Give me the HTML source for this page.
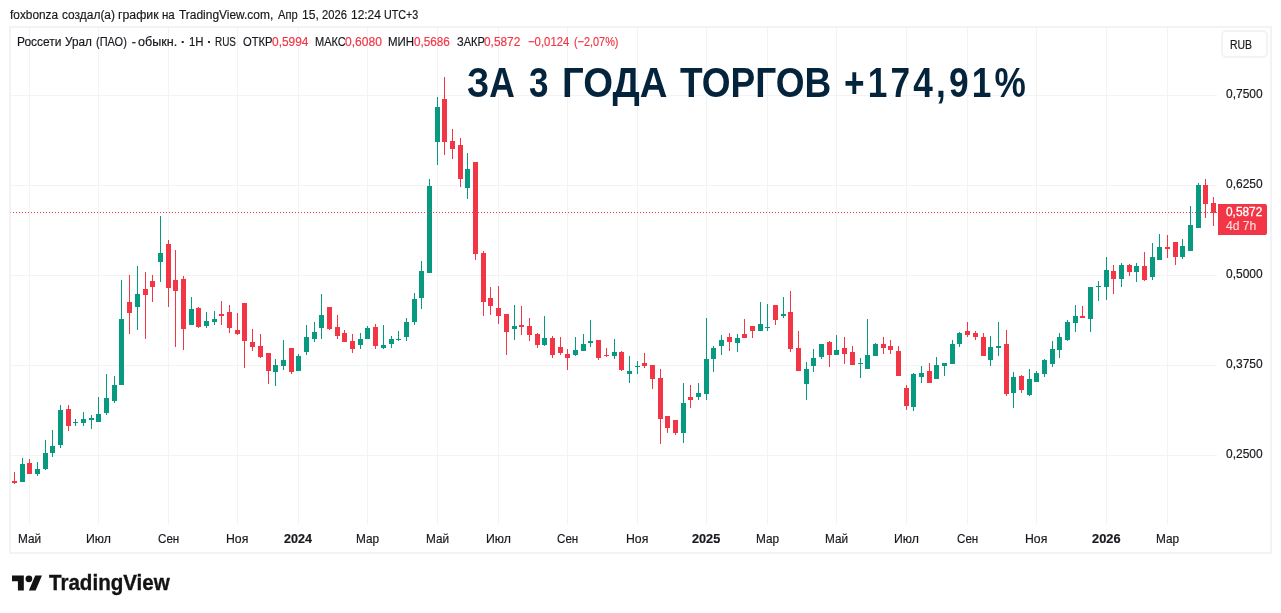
<!DOCTYPE html>
<html lang="ru"><head><meta charset="utf-8"><title>TradingView chart</title>
<style>
html,body{margin:0;padding:0;background:#fff;}
body{width:1281px;height:613px;position:relative;overflow:hidden;font-family:"Liberation Sans",sans-serif;color:#17181d;}
.abs{position:absolute;white-space:nowrap;}
.f{position:absolute;white-space:nowrap;transform-origin:0 0;display:block;-webkit-text-stroke:0.18px currentColor;}
.rub{left:1220.5px;top:30px;width:43px;height:23.5px;border:2px solid #f3f3f4;border-radius:5px;}
.pbox{left:1218px;top:204px;width:49px;height:31px;background:#f23645;border-radius:0 2px 2px 0;}
</style></head><body>
<svg width="1281" height="613" viewBox="0 0 1281 613" style="position:absolute;left:0;top:0" shape-rendering="crispEdges">
<rect x="29" y="28" width="1" height="496" fill="#f3f3f4"/>
<rect x="98" y="28" width="1" height="496" fill="#f3f3f4"/>
<rect x="168" y="28" width="1" height="496" fill="#f3f3f4"/>
<rect x="237" y="28" width="1" height="496" fill="#f3f3f4"/>
<rect x="298" y="28" width="1" height="496" fill="#f3f3f4"/>
<rect x="367" y="28" width="1" height="496" fill="#f3f3f4"/>
<rect x="437" y="28" width="1" height="496" fill="#f3f3f4"/>
<rect x="498" y="28" width="1" height="496" fill="#f3f3f4"/>
<rect x="567" y="28" width="1" height="496" fill="#f3f3f4"/>
<rect x="637" y="28" width="1" height="496" fill="#f3f3f4"/>
<rect x="706" y="28" width="1" height="496" fill="#f3f3f4"/>
<rect x="767" y="28" width="1" height="496" fill="#f3f3f4"/>
<rect x="836" y="28" width="1" height="496" fill="#f3f3f4"/>
<rect x="906" y="28" width="1" height="496" fill="#f3f3f4"/>
<rect x="967" y="28" width="1" height="496" fill="#f3f3f4"/>
<rect x="1036" y="28" width="1" height="496" fill="#f3f3f4"/>
<rect x="1106" y="28" width="1" height="496" fill="#f3f3f4"/>
<rect x="1167" y="28" width="1" height="496" fill="#f3f3f4"/>
<rect x="11" y="95" width="1206" height="1" fill="#f3f3f4"/>
<rect x="11" y="185" width="1206" height="1" fill="#f3f3f4"/>
<rect x="11" y="275" width="1206" height="1" fill="#f3f3f4"/>
<rect x="11" y="365" width="1206" height="1" fill="#f3f3f4"/>
<rect x="11" y="455" width="1206" height="1" fill="#f3f3f4"/>
<rect x="10" y="27" width="1261" height="526" fill="none" stroke="#f3f3f4" stroke-width="2"/>
<rect x="14" y="472" width="1" height="12" fill="#f23645"/>
<rect x="12" y="481" width="5" height="2" fill="#f23645"/>
<rect x="22" y="458" width="1" height="24" fill="#089981"/>
<rect x="20" y="464" width="5" height="18" fill="#089981"/>
<rect x="29" y="459" width="1" height="15" fill="#f23645"/>
<rect x="27" y="463" width="5" height="11" fill="#f23645"/>
<rect x="37" y="462" width="1" height="14" fill="#089981"/>
<rect x="35" y="469" width="5" height="5" fill="#089981"/>
<rect x="45" y="440" width="1" height="30" fill="#089981"/>
<rect x="43" y="453" width="5" height="16" fill="#089981"/>
<rect x="52" y="430" width="1" height="27" fill="#089981"/>
<rect x="50" y="446" width="5" height="7" fill="#089981"/>
<rect x="60" y="405" width="1" height="43" fill="#089981"/>
<rect x="58" y="410" width="5" height="35" fill="#089981"/>
<rect x="68" y="405" width="1" height="26" fill="#f23645"/>
<rect x="66" y="409" width="5" height="17" fill="#f23645"/>
<rect x="75" y="419" width="1" height="7" fill="#089981"/>
<rect x="73" y="422" width="5" height="1" fill="#089981"/>
<rect x="83" y="412" width="1" height="14" fill="#089981"/>
<rect x="81" y="419" width="5" height="4" fill="#089981"/>
<rect x="91" y="415" width="1" height="14" fill="#089981"/>
<rect x="89" y="418" width="5" height="2" fill="#089981"/>
<rect x="98" y="397" width="1" height="25" fill="#089981"/>
<rect x="96" y="414" width="5" height="8" fill="#089981"/>
<rect x="106" y="374" width="1" height="41" fill="#089981"/>
<rect x="104" y="398" width="5" height="15" fill="#089981"/>
<rect x="114" y="376" width="1" height="27" fill="#089981"/>
<rect x="112" y="385" width="5" height="16" fill="#089981"/>
<rect x="121" y="280" width="1" height="105" fill="#089981"/>
<rect x="119" y="319" width="5" height="66" fill="#089981"/>
<rect x="129" y="275" width="1" height="59" fill="#f23645"/>
<rect x="127" y="302" width="5" height="11" fill="#f23645"/>
<rect x="137" y="266" width="1" height="64" fill="#089981"/>
<rect x="135" y="294" width="5" height="13" fill="#089981"/>
<rect x="145" y="272" width="1" height="67" fill="#f23645"/>
<rect x="143" y="289" width="5" height="6" fill="#f23645"/>
<rect x="152" y="275" width="1" height="27" fill="#f23645"/>
<rect x="150" y="281" width="5" height="6" fill="#f23645"/>
<rect x="160" y="216" width="1" height="66" fill="#089981"/>
<rect x="158" y="253" width="5" height="9" fill="#089981"/>
<rect x="168" y="240" width="1" height="67" fill="#f23645"/>
<rect x="166" y="244" width="5" height="44" fill="#f23645"/>
<rect x="175" y="250" width="1" height="97" fill="#f23645"/>
<rect x="173" y="280" width="5" height="11" fill="#f23645"/>
<rect x="183" y="276" width="1" height="74" fill="#f23645"/>
<rect x="181" y="279" width="5" height="50" fill="#f23645"/>
<rect x="191" y="297" width="1" height="28" fill="#089981"/>
<rect x="189" y="309" width="5" height="16" fill="#089981"/>
<rect x="198" y="307" width="1" height="21" fill="#f23645"/>
<rect x="196" y="308" width="5" height="19" fill="#f23645"/>
<rect x="206" y="312" width="1" height="16" fill="#089981"/>
<rect x="204" y="321" width="5" height="5" fill="#089981"/>
<rect x="214" y="311" width="1" height="14" fill="#089981"/>
<rect x="212" y="319" width="5" height="3" fill="#089981"/>
<rect x="221" y="301" width="1" height="24" fill="#f23645"/>
<rect x="219" y="314" width="5" height="2" fill="#f23645"/>
<rect x="229" y="305" width="1" height="28" fill="#f23645"/>
<rect x="227" y="312" width="5" height="16" fill="#f23645"/>
<rect x="237" y="313" width="1" height="22" fill="#f23645"/>
<rect x="235" y="330" width="5" height="4" fill="#f23645"/>
<rect x="244" y="303" width="1" height="65" fill="#f23645"/>
<rect x="242" y="303" width="5" height="38" fill="#f23645"/>
<rect x="252" y="329" width="1" height="22" fill="#f23645"/>
<rect x="250" y="342" width="5" height="5" fill="#f23645"/>
<rect x="260" y="334" width="1" height="24" fill="#f23645"/>
<rect x="258" y="346" width="5" height="11" fill="#f23645"/>
<rect x="268" y="353" width="1" height="31" fill="#f23645"/>
<rect x="266" y="353" width="5" height="18" fill="#f23645"/>
<rect x="275" y="359" width="1" height="27" fill="#089981"/>
<rect x="273" y="365" width="5" height="7" fill="#089981"/>
<rect x="283" y="340" width="1" height="30" fill="#089981"/>
<rect x="281" y="360" width="5" height="6" fill="#089981"/>
<rect x="291" y="348" width="1" height="26" fill="#f23645"/>
<rect x="289" y="348" width="5" height="24" fill="#f23645"/>
<rect x="298" y="354" width="1" height="17" fill="#089981"/>
<rect x="296" y="356" width="5" height="15" fill="#089981"/>
<rect x="306" y="325" width="1" height="30" fill="#089981"/>
<rect x="304" y="337" width="5" height="15" fill="#089981"/>
<rect x="314" y="322" width="1" height="20" fill="#089981"/>
<rect x="312" y="332" width="5" height="7" fill="#089981"/>
<rect x="321" y="294" width="1" height="45" fill="#089981"/>
<rect x="319" y="315" width="5" height="13" fill="#089981"/>
<rect x="329" y="307" width="1" height="23" fill="#f23645"/>
<rect x="327" y="307" width="5" height="22" fill="#f23645"/>
<rect x="337" y="315" width="1" height="24" fill="#f23645"/>
<rect x="335" y="327" width="5" height="9" fill="#f23645"/>
<rect x="344" y="330" width="1" height="12" fill="#f23645"/>
<rect x="342" y="333" width="5" height="9" fill="#f23645"/>
<rect x="352" y="334" width="1" height="19" fill="#f23645"/>
<rect x="350" y="341" width="5" height="8" fill="#f23645"/>
<rect x="360" y="333" width="1" height="16" fill="#089981"/>
<rect x="358" y="339" width="5" height="6" fill="#089981"/>
<rect x="367" y="326" width="1" height="13" fill="#089981"/>
<rect x="365" y="328" width="5" height="11" fill="#089981"/>
<rect x="375" y="324" width="1" height="25" fill="#f23645"/>
<rect x="373" y="327" width="5" height="19" fill="#f23645"/>
<rect x="383" y="325" width="1" height="24" fill="#089981"/>
<rect x="381" y="345" width="5" height="3" fill="#089981"/>
<rect x="391" y="336" width="1" height="12" fill="#089981"/>
<rect x="389" y="339" width="5" height="5" fill="#089981"/>
<rect x="398" y="331" width="1" height="10" fill="#089981"/>
<rect x="396" y="339" width="5" height="1" fill="#089981"/>
<rect x="406" y="318" width="1" height="23" fill="#089981"/>
<rect x="404" y="322" width="5" height="15" fill="#089981"/>
<rect x="414" y="293" width="1" height="32" fill="#089981"/>
<rect x="412" y="299" width="5" height="23" fill="#089981"/>
<rect x="421" y="261" width="1" height="48" fill="#089981"/>
<rect x="419" y="271" width="5" height="27" fill="#089981"/>
<rect x="429" y="179" width="1" height="94" fill="#089981"/>
<rect x="427" y="186" width="5" height="87" fill="#089981"/>
<rect x="437" y="97" width="1" height="68" fill="#089981"/>
<rect x="435" y="107" width="5" height="35" fill="#089981"/>
<rect x="444" y="77" width="1" height="78" fill="#f23645"/>
<rect x="442" y="99" width="5" height="43" fill="#f23645"/>
<rect x="452" y="129" width="1" height="30" fill="#f23645"/>
<rect x="450" y="141" width="5" height="8" fill="#f23645"/>
<rect x="460" y="138" width="1" height="49" fill="#f23645"/>
<rect x="458" y="145" width="5" height="34" fill="#f23645"/>
<rect x="467" y="153" width="1" height="46" fill="#089981"/>
<rect x="465" y="169" width="5" height="19" fill="#089981"/>
<rect x="475" y="162" width="1" height="98" fill="#f23645"/>
<rect x="473" y="162" width="5" height="92" fill="#f23645"/>
<rect x="483" y="251" width="1" height="65" fill="#f23645"/>
<rect x="481" y="253" width="5" height="49" fill="#f23645"/>
<rect x="490" y="287" width="1" height="28" fill="#f23645"/>
<rect x="488" y="298" width="5" height="8" fill="#f23645"/>
<rect x="498" y="286" width="1" height="38" fill="#f23645"/>
<rect x="496" y="308" width="5" height="8" fill="#f23645"/>
<rect x="506" y="314" width="1" height="41" fill="#f23645"/>
<rect x="504" y="314" width="5" height="18" fill="#f23645"/>
<rect x="514" y="305" width="1" height="35" fill="#089981"/>
<rect x="512" y="326" width="5" height="3" fill="#089981"/>
<rect x="521" y="306" width="1" height="29" fill="#f23645"/>
<rect x="519" y="325" width="5" height="2" fill="#f23645"/>
<rect x="529" y="318" width="1" height="23" fill="#f23645"/>
<rect x="527" y="326" width="5" height="9" fill="#f23645"/>
<rect x="537" y="333" width="1" height="15" fill="#f23645"/>
<rect x="535" y="334" width="5" height="11" fill="#f23645"/>
<rect x="544" y="316" width="1" height="30" fill="#089981"/>
<rect x="542" y="338" width="5" height="7" fill="#089981"/>
<rect x="552" y="336" width="1" height="22" fill="#f23645"/>
<rect x="550" y="338" width="5" height="17" fill="#f23645"/>
<rect x="560" y="337" width="1" height="18" fill="#f23645"/>
<rect x="558" y="347" width="5" height="6" fill="#f23645"/>
<rect x="567" y="349" width="1" height="21" fill="#f23645"/>
<rect x="565" y="354" width="5" height="4" fill="#f23645"/>
<rect x="575" y="337" width="1" height="19" fill="#089981"/>
<rect x="573" y="350" width="5" height="5" fill="#089981"/>
<rect x="583" y="334" width="1" height="17" fill="#089981"/>
<rect x="581" y="344" width="5" height="7" fill="#089981"/>
<rect x="590" y="320" width="1" height="27" fill="#089981"/>
<rect x="588" y="341" width="5" height="2" fill="#089981"/>
<rect x="598" y="340" width="1" height="20" fill="#f23645"/>
<rect x="596" y="340" width="5" height="18" fill="#f23645"/>
<rect x="606" y="348" width="1" height="9" fill="#f23645"/>
<rect x="604" y="355" width="5" height="1" fill="#f23645"/>
<rect x="614" y="339" width="1" height="20" fill="#089981"/>
<rect x="612" y="352" width="5" height="4" fill="#089981"/>
<rect x="621" y="351" width="1" height="20" fill="#f23645"/>
<rect x="619" y="352" width="5" height="18" fill="#f23645"/>
<rect x="629" y="356" width="1" height="27" fill="#089981"/>
<rect x="627" y="371" width="5" height="3" fill="#089981"/>
<rect x="637" y="361" width="1" height="13" fill="#089981"/>
<rect x="635" y="366" width="5" height="1" fill="#089981"/>
<rect x="644" y="353" width="1" height="15" fill="#f23645"/>
<rect x="642" y="363" width="5" height="3" fill="#f23645"/>
<rect x="652" y="365" width="1" height="24" fill="#f23645"/>
<rect x="650" y="365" width="5" height="14" fill="#f23645"/>
<rect x="660" y="369" width="1" height="75" fill="#f23645"/>
<rect x="658" y="378" width="5" height="41" fill="#f23645"/>
<rect x="667" y="416" width="1" height="17" fill="#f23645"/>
<rect x="665" y="416" width="5" height="12" fill="#f23645"/>
<rect x="675" y="420" width="1" height="15" fill="#f23645"/>
<rect x="673" y="420" width="5" height="13" fill="#f23645"/>
<rect x="683" y="383" width="1" height="60" fill="#089981"/>
<rect x="681" y="403" width="5" height="30" fill="#089981"/>
<rect x="690" y="385" width="1" height="23" fill="#f23645"/>
<rect x="688" y="397" width="5" height="3" fill="#f23645"/>
<rect x="698" y="383" width="1" height="17" fill="#089981"/>
<rect x="696" y="393" width="5" height="4" fill="#089981"/>
<rect x="706" y="318" width="1" height="82" fill="#089981"/>
<rect x="704" y="359" width="5" height="35" fill="#089981"/>
<rect x="713" y="346" width="1" height="26" fill="#089981"/>
<rect x="711" y="348" width="5" height="11" fill="#089981"/>
<rect x="721" y="335" width="1" height="20" fill="#089981"/>
<rect x="719" y="340" width="5" height="6" fill="#089981"/>
<rect x="729" y="333" width="1" height="18" fill="#f23645"/>
<rect x="727" y="337" width="5" height="5" fill="#f23645"/>
<rect x="737" y="334" width="1" height="18" fill="#089981"/>
<rect x="735" y="338" width="5" height="5" fill="#089981"/>
<rect x="744" y="319" width="1" height="19" fill="#f23645"/>
<rect x="742" y="334" width="5" height="4" fill="#f23645"/>
<rect x="752" y="326" width="1" height="12" fill="#f23645"/>
<rect x="750" y="326" width="5" height="5" fill="#f23645"/>
<rect x="760" y="302" width="1" height="29" fill="#089981"/>
<rect x="758" y="324" width="5" height="7" fill="#089981"/>
<rect x="767" y="304" width="1" height="27" fill="#089981"/>
<rect x="765" y="327" width="5" height="1" fill="#089981"/>
<rect x="775" y="305" width="1" height="20" fill="#f23645"/>
<rect x="773" y="305" width="5" height="15" fill="#f23645"/>
<rect x="783" y="297" width="1" height="21" fill="#089981"/>
<rect x="781" y="314" width="5" height="2" fill="#089981"/>
<rect x="790" y="291" width="1" height="61" fill="#f23645"/>
<rect x="788" y="312" width="5" height="37" fill="#f23645"/>
<rect x="798" y="331" width="1" height="40" fill="#f23645"/>
<rect x="796" y="348" width="5" height="23" fill="#f23645"/>
<rect x="806" y="362" width="1" height="38" fill="#089981"/>
<rect x="804" y="369" width="5" height="15" fill="#089981"/>
<rect x="813" y="349" width="1" height="23" fill="#089981"/>
<rect x="811" y="358" width="5" height="8" fill="#089981"/>
<rect x="821" y="344" width="1" height="15" fill="#089981"/>
<rect x="819" y="344" width="5" height="13" fill="#089981"/>
<rect x="829" y="341" width="1" height="26" fill="#f23645"/>
<rect x="827" y="342" width="5" height="13" fill="#f23645"/>
<rect x="836" y="335" width="1" height="20" fill="#089981"/>
<rect x="834" y="350" width="5" height="5" fill="#089981"/>
<rect x="844" y="337" width="1" height="27" fill="#f23645"/>
<rect x="842" y="348" width="5" height="6" fill="#f23645"/>
<rect x="852" y="346" width="1" height="19" fill="#f23645"/>
<rect x="850" y="352" width="5" height="13" fill="#f23645"/>
<rect x="860" y="358" width="1" height="20" fill="#089981"/>
<rect x="858" y="363" width="5" height="1" fill="#089981"/>
<rect x="867" y="319" width="1" height="50" fill="#089981"/>
<rect x="865" y="355" width="5" height="14" fill="#089981"/>
<rect x="875" y="343" width="1" height="13" fill="#089981"/>
<rect x="873" y="344" width="5" height="12" fill="#089981"/>
<rect x="883" y="337" width="1" height="17" fill="#f23645"/>
<rect x="881" y="344" width="5" height="4" fill="#f23645"/>
<rect x="890" y="340" width="1" height="14" fill="#f23645"/>
<rect x="888" y="346" width="5" height="4" fill="#f23645"/>
<rect x="898" y="346" width="1" height="30" fill="#f23645"/>
<rect x="896" y="351" width="5" height="25" fill="#f23645"/>
<rect x="906" y="385" width="1" height="25" fill="#f23645"/>
<rect x="904" y="388" width="5" height="18" fill="#f23645"/>
<rect x="913" y="373" width="1" height="38" fill="#089981"/>
<rect x="911" y="374" width="5" height="33" fill="#089981"/>
<rect x="921" y="366" width="1" height="17" fill="#089981"/>
<rect x="919" y="373" width="5" height="4" fill="#089981"/>
<rect x="929" y="363" width="1" height="20" fill="#f23645"/>
<rect x="927" y="371" width="5" height="12" fill="#f23645"/>
<rect x="936" y="357" width="1" height="22" fill="#089981"/>
<rect x="934" y="365" width="5" height="14" fill="#089981"/>
<rect x="944" y="363" width="1" height="13" fill="#089981"/>
<rect x="942" y="363" width="5" height="3" fill="#089981"/>
<rect x="952" y="340" width="1" height="24" fill="#089981"/>
<rect x="950" y="344" width="5" height="20" fill="#089981"/>
<rect x="959" y="332" width="1" height="15" fill="#089981"/>
<rect x="957" y="333" width="5" height="11" fill="#089981"/>
<rect x="967" y="322" width="1" height="15" fill="#f23645"/>
<rect x="965" y="331" width="5" height="4" fill="#f23645"/>
<rect x="975" y="331" width="1" height="9" fill="#f23645"/>
<rect x="973" y="333" width="5" height="4" fill="#f23645"/>
<rect x="983" y="333" width="1" height="23" fill="#f23645"/>
<rect x="981" y="337" width="5" height="19" fill="#f23645"/>
<rect x="990" y="336" width="1" height="30" fill="#089981"/>
<rect x="988" y="347" width="5" height="13" fill="#089981"/>
<rect x="998" y="322" width="1" height="34" fill="#089981"/>
<rect x="996" y="346" width="5" height="2" fill="#089981"/>
<rect x="1006" y="330" width="1" height="66" fill="#f23645"/>
<rect x="1004" y="344" width="5" height="50" fill="#f23645"/>
<rect x="1013" y="372" width="1" height="36" fill="#089981"/>
<rect x="1011" y="377" width="5" height="16" fill="#089981"/>
<rect x="1021" y="375" width="1" height="18" fill="#f23645"/>
<rect x="1019" y="376" width="5" height="14" fill="#f23645"/>
<rect x="1029" y="369" width="1" height="27" fill="#089981"/>
<rect x="1027" y="379" width="5" height="16" fill="#089981"/>
<rect x="1036" y="371" width="1" height="11" fill="#089981"/>
<rect x="1034" y="373" width="5" height="9" fill="#089981"/>
<rect x="1044" y="359" width="1" height="18" fill="#089981"/>
<rect x="1042" y="360" width="5" height="14" fill="#089981"/>
<rect x="1052" y="341" width="1" height="26" fill="#089981"/>
<rect x="1050" y="349" width="5" height="15" fill="#089981"/>
<rect x="1059" y="333" width="1" height="25" fill="#089981"/>
<rect x="1057" y="337" width="5" height="13" fill="#089981"/>
<rect x="1067" y="320" width="1" height="21" fill="#089981"/>
<rect x="1065" y="322" width="5" height="18" fill="#089981"/>
<rect x="1075" y="305" width="1" height="27" fill="#089981"/>
<rect x="1073" y="316" width="5" height="7" fill="#089981"/>
<rect x="1082" y="306" width="1" height="12" fill="#f23645"/>
<rect x="1080" y="316" width="5" height="2" fill="#f23645"/>
<rect x="1090" y="287" width="1" height="45" fill="#089981"/>
<rect x="1088" y="287" width="5" height="32" fill="#089981"/>
<rect x="1098" y="281" width="1" height="20" fill="#089981"/>
<rect x="1096" y="286" width="5" height="1" fill="#089981"/>
<rect x="1106" y="257" width="1" height="43" fill="#089981"/>
<rect x="1104" y="270" width="5" height="17" fill="#089981"/>
<rect x="1113" y="265" width="1" height="29" fill="#f23645"/>
<rect x="1111" y="271" width="5" height="8" fill="#f23645"/>
<rect x="1121" y="263" width="1" height="24" fill="#089981"/>
<rect x="1119" y="265" width="5" height="14" fill="#089981"/>
<rect x="1129" y="264" width="1" height="12" fill="#f23645"/>
<rect x="1127" y="265" width="5" height="7" fill="#f23645"/>
<rect x="1136" y="263" width="1" height="19" fill="#089981"/>
<rect x="1134" y="266" width="5" height="6" fill="#089981"/>
<rect x="1144" y="252" width="1" height="29" fill="#f23645"/>
<rect x="1142" y="266" width="5" height="14" fill="#f23645"/>
<rect x="1152" y="243" width="1" height="37" fill="#089981"/>
<rect x="1150" y="257" width="5" height="20" fill="#089981"/>
<rect x="1159" y="234" width="1" height="26" fill="#089981"/>
<rect x="1157" y="247" width="5" height="13" fill="#089981"/>
<rect x="1167" y="235" width="1" height="23" fill="#f23645"/>
<rect x="1165" y="247" width="5" height="2" fill="#f23645"/>
<rect x="1175" y="242" width="1" height="23" fill="#f23645"/>
<rect x="1173" y="242" width="5" height="15" fill="#f23645"/>
<rect x="1182" y="239" width="1" height="20" fill="#089981"/>
<rect x="1180" y="246" width="5" height="11" fill="#089981"/>
<rect x="1190" y="206" width="1" height="45" fill="#089981"/>
<rect x="1188" y="225" width="5" height="26" fill="#089981"/>
<rect x="1198" y="183" width="1" height="45" fill="#089981"/>
<rect x="1196" y="185" width="5" height="43" fill="#089981"/>
<rect x="1205" y="179" width="1" height="39" fill="#f23645"/>
<rect x="1203" y="185" width="5" height="19" fill="#f23645"/>
<rect x="1213" y="197" width="1" height="29" fill="#f23645"/>
<rect x="1211" y="203" width="5" height="10" fill="#f23645"/>
<line x1="13" y1="212.5" x2="1218" y2="212.5" stroke="#f23645" stroke-width="1" stroke-dasharray="1 2"/>
<rect x="10" y="212" width="1" height="1" fill="#f5a9b0"/>
</svg>
<span class="f" style="left:9.96px;top:8.00px;transform:scaleX(0.9485);color:#17181d;font:normal 12.5px/14px 'Liberation Sans',sans-serif;">foxbonza</span>
<span class="f" style="left:62.02px;top:8.00px;transform:scaleX(0.9548);color:#17181d;font:normal 12.5px/14px 'Liberation Sans',sans-serif;">создал(а)</span>
<span class="f" style="left:117.96px;top:8.00px;transform:scaleX(0.9852);color:#17181d;font:normal 12.5px/14px 'Liberation Sans',sans-serif;">график</span>
<span class="f" style="left:162.21px;top:8.00px;transform:scaleX(0.9231);color:#17181d;font:normal 12.5px/14px 'Liberation Sans',sans-serif;">на</span>
<span class="f" style="left:179.26px;top:8.00px;transform:scaleX(0.9553);color:#17181d;font:normal 12.5px/14px 'Liberation Sans',sans-serif;">TradingView.com,</span>
<span class="f" style="left:277.70px;top:8.00px;transform:scaleX(0.8930);color:#17181d;font:normal 12.5px/14px 'Liberation Sans',sans-serif;">Апр</span>
<span class="f" style="left:301.73px;top:8.00px;transform:scaleX(0.9705);color:#17181d;font:normal 12.5px/14px 'Liberation Sans',sans-serif;">15,</span>
<span class="f" style="left:321.83px;top:8.00px;transform:scaleX(0.8943);color:#17181d;font:normal 12.5px/14px 'Liberation Sans',sans-serif;">2026</span>
<span class="f" style="left:350.84px;top:8.00px;transform:scaleX(0.9567);color:#17181d;font:normal 12.5px/14px 'Liberation Sans',sans-serif;">12:24</span>
<span class="f" style="left:384.04px;top:8.00px;transform:scaleX(0.8597);color:#17181d;font:normal 12.5px/14px 'Liberation Sans',sans-serif;">UTC+3</span>
<span class="f" style="left:17.44px;top:35.00px;transform:scaleX(0.9573);color:#17181d;font:normal 12.5px/14px 'Liberation Sans',sans-serif;">Россети</span>
<span class="f" style="left:65.33px;top:35.00px;transform:scaleX(0.9431);color:#17181d;font:normal 12.5px/14px 'Liberation Sans',sans-serif;">Урал</span>
<span class="f" style="left:96.44px;top:35.00px;transform:scaleX(0.8776);color:#17181d;font:normal 12.5px/14px 'Liberation Sans',sans-serif;">(ПАО)</span>
<span class="f" style="left:131.70px;top:35.00px;transform:scaleX(1.0000);color:#17181d;font:normal 12.5px/14px 'Liberation Sans',sans-serif;">-</span>
<span class="f" style="left:138.40px;top:35.00px;transform:scaleX(1.0067);color:#17181d;font:normal 12.5px/14px 'Liberation Sans',sans-serif;">обыкн.</span>
<span class="f" style="left:181.03px;top:35.00px;transform:scaleX(1.0000);color:#17181d;font:normal 12.5px/14px 'Liberation Sans',sans-serif;font-weight:bold;">·</span>
<span class="f" style="left:189.29px;top:35.00px;transform:scaleX(0.9143);color:#17181d;font:normal 12.5px/14px 'Liberation Sans',sans-serif;">1Н</span>
<span class="f" style="left:207.22px;top:35.00px;transform:scaleX(1.0000);color:#17181d;font:normal 12.5px/14px 'Liberation Sans',sans-serif;font-weight:bold;">·</span>
<span class="f" style="left:214.90px;top:35.00px;transform:scaleX(0.7960);color:#17181d;font:normal 12.5px/14px 'Liberation Sans',sans-serif;">RUS</span>
<span class="f" style="left:242.55px;top:35.00px;transform:scaleX(0.8976);color:#17181d;font:normal 12.5px/14px 'Liberation Sans',sans-serif;">ОТКР</span>
<span class="f" style="left:272.02px;top:35.00px;transform:scaleX(0.9530);color:#f23645;font:normal 12.5px/14px 'Liberation Sans',sans-serif;">0,5994</span>
<span class="f" style="left:314.82px;top:35.00px;transform:scaleX(0.8812);color:#17181d;font:normal 12.5px/14px 'Liberation Sans',sans-serif;">МАКС</span>
<span class="f" style="left:345.32px;top:35.00px;transform:scaleX(0.9664);color:#f23645;font:normal 12.5px/14px 'Liberation Sans',sans-serif;">0,6080</span>
<span class="f" style="left:388.18px;top:35.00px;transform:scaleX(0.9170);color:#17181d;font:normal 12.5px/14px 'Liberation Sans',sans-serif;">МИН</span>
<span class="f" style="left:413.63px;top:35.00px;transform:scaleX(0.9369);color:#f23645;font:normal 12.5px/14px 'Liberation Sans',sans-serif;">0,5686</span>
<span class="f" style="left:456.66px;top:35.00px;transform:scaleX(0.8860);color:#17181d;font:normal 12.5px/14px 'Liberation Sans',sans-serif;">ЗАКР</span>
<span class="f" style="left:484.03px;top:35.00px;transform:scaleX(0.9486);color:#f23645;font:normal 12.5px/14px 'Liberation Sans',sans-serif;">0,5872</span>
<span class="f" style="left:527.75px;top:35.00px;transform:scaleX(0.9073);color:#f23645;font:normal 12.5px/14px 'Liberation Sans',sans-serif;">−0,0124</span>
<span class="f" style="left:574.15px;top:35.00px;transform:scaleX(0.8707);color:#f23645;font:normal 12.5px/14px 'Liberation Sans',sans-serif;">(−2,07%)</span>
<span class="f" style="left:467.36px;top:61.00px;transform:scaleX(0.8440);color:#04243c;font:bold 42px/44px 'Liberation Sans',sans-serif;-webkit-text-stroke:0;">ЗА</span>
<span class="f" style="left:529.17px;top:61.00px;transform:scaleX(0.8337);color:#04243c;font:bold 42px/44px 'Liberation Sans',sans-serif;-webkit-text-stroke:0;">3</span>
<span class="f" style="left:562.29px;top:61.00px;transform:scaleX(0.9119);color:#04243c;font:bold 42px/44px 'Liberation Sans',sans-serif;-webkit-text-stroke:0;">ГОДА</span>
<span class="f" style="left:679.76px;top:61.00px;transform:scaleX(0.8822);color:#04243c;font:bold 42px/44px 'Liberation Sans',sans-serif;-webkit-text-stroke:0;">ТОРГОВ</span><span class="f" style="left:844.23px;top:61.00px;transform:scaleX(0.8388);color:#04243c;font:bold 42px/44px 'Liberation Sans',sans-serif;letter-spacing:3.76px;-webkit-text-stroke:0;">+174,91%</span>
<div class="abs rub"></div>
<span class="f" style="left:1229.76px;top:38.00px;transform:scaleX(0.8364);color:#17181d;font:normal 12.5px/14px 'Liberation Sans',sans-serif;">RUB</span>
<span class="f" style="left:1225.91px;top:87.00px;transform:scaleX(0.9726);color:#17181d;font:normal 12.3px/14px 'Liberation Sans',sans-serif;">0,7500</span>
<span class="f" style="left:1225.91px;top:177.00px;transform:scaleX(0.9726);color:#17181d;font:normal 12.3px/14px 'Liberation Sans',sans-serif;">0,6250</span>
<span class="f" style="left:1225.91px;top:267.00px;transform:scaleX(0.9726);color:#17181d;font:normal 12.3px/14px 'Liberation Sans',sans-serif;">0,5000</span>
<span class="f" style="left:1225.91px;top:357.00px;transform:scaleX(0.9726);color:#17181d;font:normal 12.3px/14px 'Liberation Sans',sans-serif;">0,3750</span>
<span class="f" style="left:1225.91px;top:447.00px;transform:scaleX(0.9726);color:#17181d;font:normal 12.3px/14px 'Liberation Sans',sans-serif;">0,2500</span>
<div class="abs pbox"></div>
<span class="f" style="left:1225.92px;top:205.00px;transform:scaleX(0.9644);color:#ffffff;font:normal 12.3px/14px 'Liberation Sans',sans-serif;-webkit-text-stroke:0.3px #fff;">0,5872</span><span class="f" style="left:1225.95px;top:219.00px;transform:scaleX(0.9815);color:rgba(255,255,255,0.75);font:normal 12.3px/14px 'Liberation Sans',sans-serif;-webkit-text-stroke:0.2px rgba(255,255,255,0.75);">4d 7h</span>
<span class="f" style="left:17.85px;top:532.00px;transform:scaleX(0.9511);color:#17181d;font:normal 12.4px/14px 'Liberation Sans',sans-serif;">Май</span>
<span class="f" style="left:86.01px;top:532.00px;transform:scaleX(0.9892);color:#17181d;font:normal 12.4px/14px 'Liberation Sans',sans-serif;">Июл</span>
<span class="f" style="left:157.95px;top:532.00px;transform:scaleX(0.9381);color:#17181d;font:normal 12.4px/14px 'Liberation Sans',sans-serif;">Сен</span>
<span class="f" style="left:226.26px;top:532.00px;transform:scaleX(0.9880);color:#17181d;font:normal 12.4px/14px 'Liberation Sans',sans-serif;">Ноя</span>
<span class="f" style="left:284.29px;top:532.00px;transform:scaleX(1.0148);color:#17181d;font:bold 12.4px/14px 'Liberation Sans',sans-serif;">2024</span>
<span class="f" style="left:355.70px;top:532.00px;transform:scaleX(0.9538);color:#17181d;font:normal 12.4px/14px 'Liberation Sans',sans-serif;">Мар</span>
<span class="f" style="left:425.85px;top:532.00px;transform:scaleX(0.9511);color:#17181d;font:normal 12.4px/14px 'Liberation Sans',sans-serif;">Май</span>
<span class="f" style="left:486.01px;top:532.00px;transform:scaleX(0.9892);color:#17181d;font:normal 12.4px/14px 'Liberation Sans',sans-serif;">Июл</span>
<span class="f" style="left:556.95px;top:532.00px;transform:scaleX(0.9381);color:#17181d;font:normal 12.4px/14px 'Liberation Sans',sans-serif;">Сен</span>
<span class="f" style="left:626.26px;top:532.00px;transform:scaleX(0.9880);color:#17181d;font:normal 12.4px/14px 'Liberation Sans',sans-serif;">Ноя</span>
<span class="f" style="left:692.29px;top:532.00px;transform:scaleX(1.0243);color:#17181d;font:bold 12.4px/14px 'Liberation Sans',sans-serif;">2025</span>
<span class="f" style="left:755.70px;top:532.00px;transform:scaleX(0.9538);color:#17181d;font:normal 12.4px/14px 'Liberation Sans',sans-serif;">Мар</span>
<span class="f" style="left:824.85px;top:532.00px;transform:scaleX(0.9511);color:#17181d;font:normal 12.4px/14px 'Liberation Sans',sans-serif;">Май</span>
<span class="f" style="left:894.01px;top:532.00px;transform:scaleX(0.9892);color:#17181d;font:normal 12.4px/14px 'Liberation Sans',sans-serif;">Июл</span>
<span class="f" style="left:956.95px;top:532.00px;transform:scaleX(0.9381);color:#17181d;font:normal 12.4px/14px 'Liberation Sans',sans-serif;">Сен</span>
<span class="f" style="left:1025.26px;top:532.00px;transform:scaleX(0.9880);color:#17181d;font:normal 12.4px/14px 'Liberation Sans',sans-serif;">Ноя</span>
<span class="f" style="left:1092.28px;top:532.00px;transform:scaleX(1.0340);color:#17181d;font:bold 12.4px/14px 'Liberation Sans',sans-serif;">2026</span>
<span class="f" style="left:1155.70px;top:532.00px;transform:scaleX(0.9538);color:#17181d;font:normal 12.4px/14px 'Liberation Sans',sans-serif;">Мар</span>
<svg class="abs" style="left:11.9px;top:571.6px" width="30.42" height="23.66" viewBox="0 0 36 28"><path d="M14 22H7V11H0V4h14v18zM28 22h-8l7.5-18h8L28 22z" fill="#131313"/><circle cx="20" cy="8" r="4" fill="#131313"/></svg>
<span class="f" style="left:48.96px;top:571.00px;transform:scaleX(0.9563);color:#131313;font:bold 21.5px/24px 'Liberation Sans',sans-serif;-webkit-text-stroke:0.35px #131313;">TradingView</span>
</body></html>
